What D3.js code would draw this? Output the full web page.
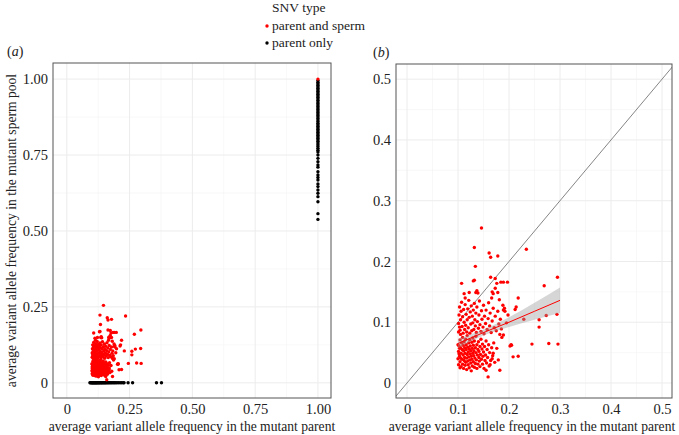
<!DOCTYPE html>
<html><head><meta charset="utf-8">
<script src="https://cdn.jsdelivr.net/npm/d3@7"></script>
<style>body{margin:0;background:#fff}svg{display:block}text{font-family:"Liberation Serif","Times New Roman",serif}</style>
</head><body><svg id="c" width="679" height="435"></svg>
<script>
// ---- data ----
const seriesNames = ["parent and sperm", "parent only"];
const seriesColors = ["#ff0000", "#000000"];
// red: SNVs in parent and sperm [parent VAF, sperm VAF]
const redPoints = [
[1.0,1.0],
[0.146,0.255],[0.132,0.223],[0.161,0.214],[0.164,0.207],[0.178,0.209],[0.234,0.220],[0.134,0.192],[0.107,0.164],
[0.130,0.168],[0.132,0.169],[0.164,0.174],[0.173,0.172],[0.184,0.166],[0.189,0.166],[0.197,0.166],[0.176,0.164],
[0.269,0.160],[0.295,0.174],[0.112,0.147],[0.122,0.149],[0.137,0.152],[0.139,0.148],[0.135,0.149],[0.167,0.150],
[0.173,0.156],[0.169,0.147],[0.178,0.149],[0.218,0.140],[0.166,0.140],[0.114,0.140],
[0.259,0.104],[0.273,0.111],[0.294,0.113],[0.259,0.092],[0.245,0.064],[0.278,0.065],[0.296,0.064],[0.229,0.105],
[0.214,0.125],[0.212,0.121],[0.191,0.123],[0.218,0.044],[0.208,0.043],[0.202,0.061],[0.204,0.063],
[0.182,0.080],[0.186,0.075],[0.189,0.079],[0.205,0.062],[0.176,0.057],[0.169,0.049],[0.179,0.038],[0.163,0.030],
[0.182,0.021],[0.159,0.010],[0.167,0.040],[0.155,0.021],[0.181,0.137],[0.189,0.120],[0.192,0.118],
[0.101,0.052],[0.102,0.061],[0.103,0.044],[0.104,0.035],[0.104,0.071],[0.105,0.058],[0.106,0.027],[0.106,0.049],
[0.107,0.066],[0.108,0.039],[0.108,0.055],[0.109,0.031],[0.109,0.075],[0.110,0.046],[0.110,0.062],[0.111,0.024],
[0.111,0.053],[0.112,0.037],[0.112,0.068],[0.113,0.042],[0.113,0.058],[0.114,0.029],[0.114,0.049],[0.115,0.072],
[0.115,0.034],[0.116,0.055],[0.116,0.063],[0.117,0.041],[0.117,0.022],[0.118,0.047],[0.118,0.078],[0.119,0.036],
[0.119,0.059],[0.120,0.051],[0.120,0.030],[0.121,0.066],[0.121,0.043],[0.122,0.025],[0.122,0.056],[0.123,0.038],
[0.123,0.071],[0.124,0.048],[0.124,0.061],[0.125,0.033],[0.125,0.053],[0.126,0.044],[0.126,0.020],[0.127,0.067],
[0.127,0.039],[0.128,0.057],[0.128,0.028],[0.129,0.049],[0.129,0.074],[0.130,0.035],[0.130,0.062],[0.131,0.045],
[0.131,0.053],[0.132,0.026],[0.132,0.069],[0.133,0.041],[0.134,0.058],[0.134,0.032],[0.135,0.050],[0.135,0.077],
[0.136,0.038],[0.137,0.063],[0.137,0.024],[0.138,0.046],[0.139,0.055],[0.139,0.031],[0.140,0.068],[0.141,0.042],
[0.141,0.052],[0.142,0.036],[0.143,0.060],[0.143,0.027],[0.144,0.047],[0.145,0.072],[0.146,0.039],[0.147,0.056],
[0.148,0.031],[0.148,0.064],[0.149,0.044],[0.150,0.051],[0.151,0.024],[0.152,0.060],[0.153,0.037],[0.154,0.046],
[0.155,0.069],[0.156,0.033],[0.157,0.055],[0.158,0.042],[0.160,0.063],[0.161,0.028],[0.162,0.050],[0.164,0.037],
[0.166,0.058],[0.168,0.045],[0.170,0.066],[0.172,0.034],
[0.100,0.040],[0.100,0.063],[0.101,0.030],[0.101,0.084],[0.102,0.048],[0.103,0.057],[0.103,0.092],[0.104,0.025],
[0.105,0.041],[0.105,0.080],
[0.101,0.098],[0.102,0.112],[0.103,0.125],[0.104,0.087],[0.105,0.104],[0.106,0.118],[0.107,0.133],[0.108,0.093],
[0.109,0.109],[0.110,0.082],[0.111,0.121],[0.112,0.100],[0.113,0.088],[0.114,0.129],[0.115,0.095],[0.116,0.113],
[0.117,0.084],[0.118,0.104],[0.119,0.122],[0.120,0.091],[0.121,0.136],[0.122,0.108],[0.123,0.082],[0.124,0.117],
[0.125,0.097],[0.126,0.127],[0.127,0.086],[0.128,0.110],[0.129,0.099],[0.130,0.120],[0.131,0.088],[0.132,0.131],
[0.133,0.104],[0.134,0.094],[0.135,0.115],[0.136,0.083],[0.137,0.125],[0.138,0.101],[0.140,0.090],[0.141,0.112],
[0.142,0.135],[0.143,0.096],[0.145,0.085],[0.146,0.119],[0.147,0.105],[0.149,0.092],[0.150,0.128],[0.151,0.081],
[0.152,0.110],[0.154,0.098],[0.155,0.120],[0.157,0.088],[0.159,0.106],[0.160,0.132],[0.162,0.094],[0.163,0.115],
[0.165,0.083],[0.167,0.102],[0.169,0.123],[0.171,0.091],[0.173,0.110],[0.175,0.086],[0.178,0.118],[0.180,0.097],
[0.183,0.105],[0.185,0.089],[0.188,0.128],[0.195,0.099],[0.198,0.112]
];
// black: parent only, sperm VAF = 0
const blackZeroX = [0.092,0.095,0.098,0.100,0.102,0.104,0.106,0.108,0.110,0.112,0.114,0.116,0.118,0.120,0.122,0.125,
0.127,0.130,0.132,0.135,0.138,0.140,0.143,0.146,0.149,0.152,0.155,0.158,0.162,0.165,0.169,0.173,0.177,0.181,0.186,
0.190,0.195,0.200,0.206,0.212,0.218,0.224,0.228,0.244,0.262,0.357,0.377];
// black: parent VAF = 1
const blackOneY = [0.995,0.99,0.985,0.98,0.975,0.97,0.965,0.96,0.955,0.95,0.945,0.94,0.935,0.93,0.925,0.92,0.915,0.91,
0.905,0.90,0.895,0.89,0.885,0.88,0.875,0.87,0.865,0.86,0.855,0.85,0.845,0.84,0.835,0.83,0.825,0.82,0.815,0.81,0.805,
0.80,0.795,0.79,0.784,0.778,0.772,0.766,0.76,0.75,0.739,0.728,0.717,0.71,0.695,0.684,0.676,0.668,0.655,0.646,0.635,
0.624,0.613,0.596,0.557,0.538];
// linear fit with CI (panel b)
const fitX  = [0.10, 0.15, 0.20, 0.25, 0.30];
const fitY  = [0.065, 0.083, 0.100, 0.118, 0.136];
const fitLo = [0.057, 0.078, 0.092, 0.104, 0.115];
const fitHi = [0.073, 0.088, 0.108, 0.132, 0.157];
// ticks
const ticksA = [0, 0.25, 0.5, 0.75, 1];
const tickLabelsA = ["0", "0.25", "0.50", "0.75", "1.00"];
const minorA = [0.125, 0.375, 0.625, 0.875];
const ticksB = [0, 0.1, 0.2, 0.3, 0.4, 0.5];
const tickLabelsB = ["0", "0.1", "0.2", "0.3", "0.4", "0.5"];
const minorB = [0.05, 0.15, 0.25, 0.35, 0.45];

// ---- drawing ----
const svg = d3.select("#c");
const R = 1.7;
const FONT = '"Liberation Serif", "Times New Roman", serif';

function panel(id, x, y, ticks, labels, minor) {
  const g = svg.append("g");
  const [x0, x1] = x.range(), [y0, y1] = y.range();
  g.append("clipPath").attr("id", id).append("rect")
    .attr("x", x0).attr("y", y1).attr("width", x1 - x0).attr("height", y0 - y1);
  const grid = g.append("g");
  grid.selectAll(".mv").data(minor).join("line")
    .attr("x1", d => x(d)).attr("x2", d => x(d)).attr("y1", y1).attr("y2", y0)
    .attr("stroke", "#f4f4f4").attr("stroke-width", 0.6);
  grid.selectAll(".mh").data(minor).join("line").attr("class","mh")
    .attr("y1", d => y(d)).attr("y2", d => y(d)).attr("x1", x0).attr("x2", x1)
    .attr("stroke", "#f4f4f4").attr("stroke-width", 0.6);
  grid.selectAll(".Mv").data(ticks).join("line").attr("class","Mv")
    .attr("x1", d => x(d)).attr("x2", d => x(d)).attr("y1", y1).attr("y2", y0)
    .attr("stroke", "#ececec").attr("stroke-width", 1);
  grid.selectAll(".Mh").data(ticks).join("line").attr("class","Mh")
    .attr("y1", d => y(d)).attr("y2", d => y(d)).attr("x1", x0).attr("x2", x1)
    .attr("stroke", "#ececec").attr("stroke-width", 1);
  const fmt = d => labels[ticks.indexOf(d)];
  const ax = g.append("g").attr("transform", `translate(0,${y0})`)
    .call(d3.axisBottom(x).tickValues(ticks).tickFormat(fmt).tickSize(0).tickPadding(6));
  const ay = g.append("g").attr("transform", `translate(${x0},0)`)
    .call(d3.axisLeft(y).tickValues(ticks).tickFormat(fmt).tickSize(0).tickPadding(5));
  [ax, ay].forEach(a => {
    a.select(".domain").remove();
    a.attr("font-family", null).attr("font-size", null);
    a.selectAll("text").style("font-family", FONT)
      .style("font-size", "14.5px").attr("fill", "#222");
  });
  const plot = g.append("g").attr("clip-path", `url(#${id})`);
  return {g, plot, x0, x1, y0, y1};
}

// Panel a
const xA = d3.scaleLinear().domain([-0.055, 1.052]).range([53, 331]);
const yA = d3.scaleLinear().domain([-0.05, 1.053]).range([398, 63]);
const pa = panel("clipA", xA, yA, ticksA, tickLabelsA, minorA);
pa.plot.selectAll(".b0").data(blackZeroX).join("circle")
  .attr("cx", d => xA(d)).attr("cy", yA(0)).attr("r", R).attr("fill", seriesColors[1]);
pa.plot.selectAll(".b1").data(blackOneY).join("circle")
  .attr("cx", xA(1)).attr("cy", d => yA(d)).attr("r", R).attr("fill", seriesColors[1]);
pa.plot.selectAll(".r").data(redPoints).join("circle")
  .attr("cx", d => xA(d[0])).attr("cy", d => yA(d[1])).attr("r", R).attr("fill", seriesColors[0]);

// Panel b
const xB = d3.scaleLinear().domain([-0.0216, 0.5196]).range([396, 672]);
const yB = d3.scaleLinear().domain([-0.0247, 0.525]).range([398, 64]);
const pb = panel("clipB", xB, yB, ticksB, tickLabelsB, minorB);
pb.plot.append("line")
  .attr("x1", xB(-0.05)).attr("y1", yB(-0.05)).attr("x2", xB(0.6)).attr("y2", yB(0.6))
  .attr("stroke", "#777").attr("stroke-width", 0.9);
pb.plot.selectAll(".r").data(redPoints).join("circle")
  .attr("cx", d => xB(d[0])).attr("cy", d => yB(d[1])).attr("r", R).attr("fill", seriesColors[0]);
const fitIdx = d3.range(fitX.length);
pb.plot.append("path").datum(fitIdx)
  .attr("d", d3.area().curve(d3.curveMonotoneX).x(i => xB(fitX[i])).y0(i => yB(fitLo[i])).y1(i => yB(fitHi[i])))
  .attr("fill", "#999").attr("fill-opacity", 0.4);
pb.plot.append("path").datum(fitIdx)
  .attr("d", d3.line().x(i => xB(fitX[i])).y(i => yB(fitY[i])))
  .attr("fill", "none").attr("stroke", "#ff0000").attr("stroke-width", 1);

// borders
[pa, pb].forEach(p => {
  p.g.append("rect").attr("x", p.x0).attr("y", p.y1).attr("width", p.x1 - p.x0).attr("height", p.y0 - p.y1)
    .attr("fill", "none").attr("stroke", "#555").attr("stroke-width", 1);
});

// axis titles
const TS = "13.6px";
svg.append("text").attr("x", 192).attr("y", 431).attr("text-anchor", "middle")
  .style("font-size", TS).attr("fill", "#222").text("average variant allele frequency in the mutant parent");
svg.append("text").attr("x", 532).attr("y", 431).attr("text-anchor", "middle")
  .style("font-size", TS).attr("fill", "#222").text("average variant allele frequency in the mutant parent");
svg.append("text").attr("transform", `translate(16,${(63 + 398) / 2}) rotate(-90)`).attr("text-anchor", "middle")
  .style("font-size", TS).attr("fill", "#222").text("average variant allele frequency in the mutant sperm pool");

// panel labels
function plabel(x, y, letter) {
  const t = svg.append("text").attr("x", x).attr("y", y).style("font-size", "14px").attr("fill", "#222");
  t.append("tspan").text("(");
  t.append("tspan").attr("font-style", "italic").text(letter);
  t.append("tspan").text(")");
}
plabel(7, 56, "a");
plabel(373, 57, "b");

// legend
const lg = svg.append("g");
lg.append("text").attr("x", 272).attr("y", 12).style("font-size", "13.5px").attr("fill", "#222").text("SNV type");
seriesNames.forEach((n, i) => {
  lg.append("circle").attr("cx", 267).attr("cy", 26 + i * 17).attr("r", 1.7).attr("fill", seriesColors[i]);
  lg.append("text").attr("x", 272).attr("y", 30 + i * 17).style("font-size", "13.5px").attr("fill", "#222").text(n);
});
</script></body></html>
